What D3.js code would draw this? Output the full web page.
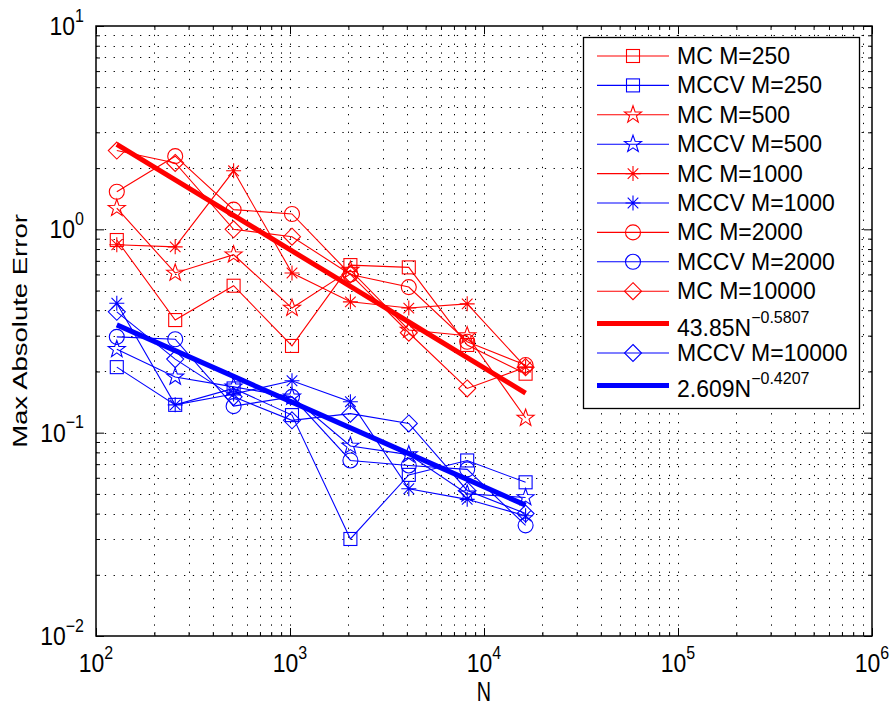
<!DOCTYPE html>
<meta charset="utf-8">
<style>
body { margin: 0; background: #fff; }
text { font-family: "Liberation Sans", Arial, sans-serif; }
.grid line { stroke: #000; stroke-width: 1px; stroke-dasharray: 1.3,7.5; }
</style>
<body>
<script src="https://cdn.jsdelivr.net/npm/d3@7"></script>
<script>

// sample sizes
var N = [128, 256, 512, 1024, 2048, 4096, 8192, 16384];

// max absolute error per series
var mc250     = [0.886, 0.358, 0.528, 0.267, 0.667, 0.65, 0.270, 0.195];
var mccv250   = [0.21, 0.137, 0.165, 0.122, 0.030, 0.062, 0.073, 0.057];
var mc500     = [1.27, 0.61, 0.75, 0.41, 0.63, 0.32, 0.30, 0.118];
var mccv500   = [0.257, 0.188, 0.168, 0.15, 0.086, 0.078, 0.050, 0.048];
var mc1000    = [0.84, 0.82, 1.94, 0.61, 0.44, 0.41, 0.43, 0.21];
var mccv1000  = [0.433, 0.137, 0.155, 0.18, 0.142, 0.053, 0.047, 0.039];
var mc2000    = [1.53, 2.29, 1.25, 1.19, 0.60, 0.52, 0.28, 0.215];
var mccv2000  = [0.296, 0.288, 0.135, 0.15, 0.073, 0.069, 0.066, 0.035];
var mc10000   = [2.44, 2.12, 1.0, 0.92, 0.60, 0.31, 0.165, 0.21];
var mccv10000 = [0.393, 0.23, 0.15, 0.115, 0.124, 0.111, 0.052, 0.040];

// fitted power laws  a * N^b
var fitMC   = [43.85, -0.5807];
var fitMCCV = [2.609, -0.4207];

var xTicks = [2, 3, 4, 5, 6];     // exponents of 10
var yTicks = [-2, -1, 0, 1];

// series in legend order
var series = [
  {name: "MC M=250",     vals: mc250,    color: "red",  sym: "square"},
  {name: "MCCV M=250",   vals: mccv250,  color: "blue", sym: "square"},
  {name: "MC M=500",     vals: mc500,    color: "red",  sym: "star"},
  {name: "MCCV M=500",   vals: mccv500,  color: "blue", sym: "star"},
  {name: "MC M=1000",    vals: mc1000,   color: "red",  sym: "asterisk"},
  {name: "MCCV M=1000",  vals: mccv1000, color: "blue", sym: "asterisk"},
  {name: "MC M=2000",    vals: mc2000,   color: "red",  sym: "circle"},
  {name: "MCCV M=2000",  vals: mccv2000, color: "blue", sym: "circle"},
  {name: "MC M=10000",   vals: mc10000,  color: "red",  sym: "diamond"},
  {name: "43.85N", sup: "\u22120.5807", fit: fitMC, color: "red"},
  {name: "MCCV M=10000", vals: mccv10000, color: "blue", sym: "diamond"},
  {name: "2.609N", sup: "\u22120.4207", fit: fitMCCV, color: "blue"}
];

var W = 892, H = 707;
var pL = 96, pR = 872, pT = 26, pB = 636;

var svg = d3.select("body").append("svg")
    .attr("width", W)
    .attr("height", H);

var x = d3.scaleLog().domain([100, 1e6]).range([pL, pR]);
var y = d3.scaleLog().domain([0.01, 10]).range([pB, pT]);

// minor + major tick values
function logVals(lo, hi) {
  var out = [];
  for (var e = lo; e < hi; e++)
    for (var k = 1; k <= 9; k++) out.push(k * Math.pow(10, e));
  out.push(Math.pow(10, hi));
  return out;
}
var xv = logVals(2, 6), yv = logVals(-2, 1);

// dotted grid
var grid = svg.append("g").attr("class", "grid");
grid.selectAll(".gx").data(xv.filter(function(d) { return d > 100 && d < 1e6; }))
  .enter().append("line")
    .attr("x1", function(d) { return Math.round(x(d)) + 0.5; })
    .attr("x2", function(d) { return Math.round(x(d)) + 0.5; })
    .attr("y1", pT).attr("y2", pB);
grid.selectAll(".gy").data(yv.filter(function(d) { return d > 0.01 && d < 10; }))
  .enter().append("line")
    .attr("y1", function(d) { return Math.round(y(d)) + 0.5; })
    .attr("y2", function(d) { return Math.round(y(d)) + 0.5; })
    .attr("x1", pL).attr("x2", pR);

// axes: ticks on all four sides, pointing inward
function isMajor(d) { return Math.abs(Math.log10(d) - Math.round(Math.log10(d))) < 1e-9; }
function tickStyle(g) { g.select(".domain").remove(); g.selectAll(".tick line").attr("stroke", "#000"); }
svg.append("g").attr("transform", "translate(0," + pB + ")")
  .call(d3.axisTop(x).tickValues(xv).tickFormat("").tickSize(0))
  .call(tickStyle)
  .call(function(g) { g.selectAll(".tick line").attr("y2", function(d) { return isMajor(d) ? -8 : -4; }); });
svg.append("g").attr("transform", "translate(0," + pT + ")")
  .call(d3.axisBottom(x).tickValues(xv).tickFormat("").tickSize(0))
  .call(tickStyle)
  .call(function(g) { g.selectAll(".tick line").attr("y2", function(d) { return isMajor(d) ? 8 : 4; }); });
svg.append("g").attr("transform", "translate(" + pL + ",0)")
  .call(d3.axisRight(y).tickValues(yv).tickFormat("").tickSize(0))
  .call(tickStyle)
  .call(function(g) { g.selectAll(".tick line").attr("x2", function(d) { return isMajor(d) ? 8 : 4; }); });
svg.append("g").attr("transform", "translate(" + pR + ",0)")
  .call(d3.axisLeft(y).tickValues(yv).tickFormat("").tickSize(0))
  .call(tickStyle)
  .call(function(g) { g.selectAll(".tick line").attr("x2", function(d) { return isMajor(d) ? -8 : -4; }); });

svg.append("rect")
    .attr("x", pL).attr("y", pT)
    .attr("width", pR - pL).attr("height", pB - pT)
    .attr("fill", "none").attr("stroke", "#000").attr("stroke-width", 1.5);

// tick labels 10^k (slightly tall, like the source figure)
xTicks.forEach(function(e) {
  var t = svg.append("text")
      .attr("transform", "translate(" + x(Math.pow(10, e)) + ",672) scale(1,1.12)")
      .attr("text-anchor", "middle").attr("font-size", 23);
  t.append("tspan").text("10");
  t.append("tspan").attr("dy", -12).attr("font-size", 16).text(e);
});
yTicks.forEach(function(e) {
  var t = svg.append("text")
      .attr("transform", "translate(84," + (y(Math.pow(10, e)) + 9) + ") scale(1,1.12)")
      .attr("text-anchor", "end").attr("font-size", 23);
  t.append("tspan").text("10");
  t.append("tspan").attr("dy", -12).attr("font-size", 16)
      .text(e < 0 ? "\u2212" + (-e) : e);
});

svg.append("text")
    .attr("transform", "translate(" + (pL + pR) / 2 + ",701) scale(0.9,1.25)")
    .attr("text-anchor", "middle").attr("font-size", 22)
    .text("N");
svg.append("text")
    .attr("transform", "translate(27," + (pT + pB) / 2 + ") rotate(-90) scale(1.25,0.88)")
    .attr("text-anchor", "middle").attr("font-size", 22)
    .text("Max Absolute Error");

// markers
function marker(g, sym, cx, cy, color) {
  var m = g.append("g").attr("transform", "translate(" + cx + "," + cy + ")")
      .attr("fill", "none").attr("stroke", color).attr("stroke-width", 1.1);
  if (sym === "square") {
    m.append("rect").attr("x", -6.5).attr("y", -6.5).attr("width", 13).attr("height", 13);
  } else if (sym === "circle") {
    m.append("circle").attr("r", 7.5);
  } else if (sym === "diamond") {
    m.append("path").attr("d", "M0,-8.5L8.5,0L0,8.5L-8.5,0Z");
  } else if (sym === "star") {
    var pts = [];
    for (var i = 0; i < 10; i++) {
      var r = i % 2 ? 3.6 : 9, a = -Math.PI / 2 + i * Math.PI / 5;
      pts.push([r * Math.cos(a), r * Math.sin(a)]);
    }
    m.append("path").attr("d", "M" + pts.join("L") + "Z");
  } else if (sym === "asterisk") {
    var s = 7.5, d = 5.3;
    m.append("path").attr("d",
      "M" + (-s) + ",0L" + s + ",0M0," + (-s) + "L0," + s +
      "M" + (-d) + "," + (-d) + "L" + d + "," + d + "M" + (-d) + "," + d + "L" + d + "," + (-d));
  }
}

var line = d3.line()
    .x(function(d) { return x(d[0]); })
    .y(function(d) { return y(d[1]); });

var plot = svg.append("g");
series.forEach(function(s) {
  if (s.fit) {
    var pts = N.map(function(n) { return [n, s.fit[0] * Math.pow(n, s.fit[1])]; });
    plot.append("path").datum(pts).attr("d", line)
        .attr("fill", "none").attr("stroke", s.color).attr("stroke-width", 5);
  } else {
    var pts2 = N.map(function(n, i) { return [n, s.vals[i]]; });
    plot.append("path").datum(pts2).attr("d", line)
        .attr("fill", "none").attr("stroke", s.color).attr("stroke-width", 1.1);
    pts2.forEach(function(p) { marker(plot, s.sym, x(p[0]), y(p[1]), s.color); });
  }
});

// legend
var lg = svg.append("g");
lg.append("rect")
    .attr("x", 583.5).attr("y", 37.5).attr("width", 276).attr("height", 371)
    .attr("fill", "#fff").attr("stroke", "#000").attr("stroke-width", 1.3);
series.forEach(function(s, i) {
  var ry = 56 + i * 29.4 + (i >= 9 ? 3 : 0) + (i >= 11 ? 3 : 0);
  if (s.fit) {
    lg.append("line").attr("x1", 597).attr("x2", 669).attr("y1", ry).attr("y2", ry)
        .attr("stroke", s.color).attr("stroke-width", 5);
    var t = lg.append("text").attr("x", 677).attr("y", ry + 12).attr("font-size", 23);
    t.append("tspan").text(s.name);
    t.append("tspan").attr("dy", -13).attr("font-size", 16).text(s.sup);
  } else {
    lg.append("line").attr("x1", 597).attr("x2", 669).attr("y1", ry).attr("y2", ry)
        .attr("stroke", s.color).attr("stroke-width", 1.1);
    marker(lg, s.sym, 633, ry, s.color);
    lg.append("text").attr("x", 677).attr("y", ry + 8).attr("font-size", 23).text(s.name);
  }
});

</script>
</body>
